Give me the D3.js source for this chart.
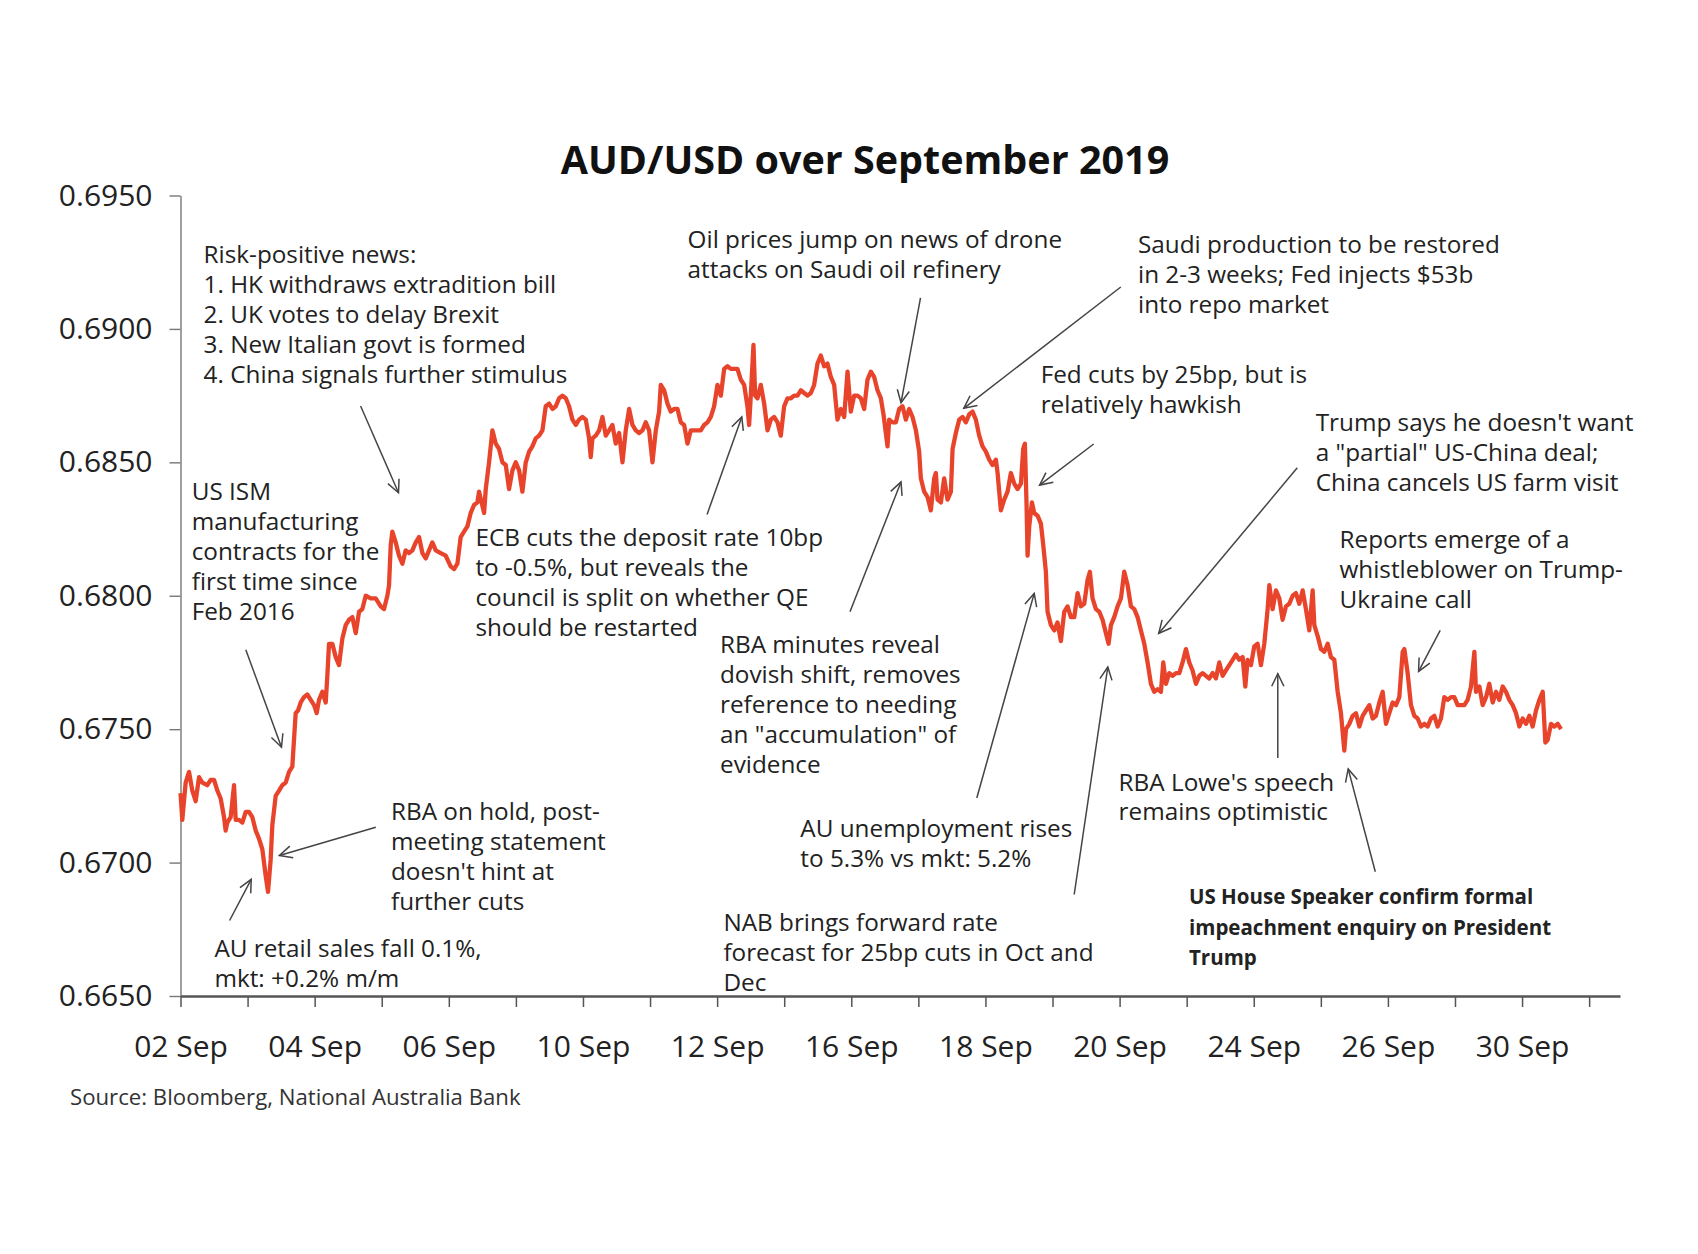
<!DOCTYPE html>
<html><head><meta charset="utf-8">
<script src="https://cdn.jsdelivr.net/npm/d3@7"></script>
<style>
body{margin:0;background:#fff;}
svg{display:block;}
text{font-family:"Open Sans","Noto Sans",sans-serif;fill:#222;}
</style>
</head><body>
<svg id="chart" width="1698" height="1254"></svg>
<script>
// ---------------- DATA ----------------
const chartTitle = "AUD/USD over September 2019";
const sourceNote = "Source: Bloomberg, National Australia Bank";
const tradingDays = ["02 Sep","03 Sep","04 Sep","05 Sep","06 Sep","09 Sep","10 Sep","11 Sep","12 Sep","13 Sep",
  "16 Sep","17 Sep","18 Sep","19 Sep","20 Sep","23 Sep","24 Sep","25 Sep","26 Sep","27 Sep","30 Sep","01 Oct"];
const yTicks = [0.6650,0.6700,0.6750,0.6800,0.6850,0.6900,0.6950];
// [trading-day position, AUD/USD]
const audusd = [
[0.00,0.6726],[0.027,0.6716],[0.077,0.6730],[0.127,0.6734],[0.176,0.6727],[0.226,0.6723],[0.276,0.6732],[0.326,0.6730],[0.40,0.6729],[0.45,0.6731],[0.50,0.6731],[0.549,0.6727],[0.599,0.6724],[0.649,0.6717],[0.673,0.6712],[0.698,0.6715],[0.748,0.6717],[0.798,0.6729],[0.823,0.6716],[0.872,0.6716],[0.922,0.6715],[0.972,0.6719],[1.021,0.6719],[1.071,0.6717],[1.121,0.6712],[1.17,0.6709],[1.22,0.6705],[1.27,0.6695],[1.305,0.6689],[1.344,0.6701],[1.369,0.6714],[1.419,0.6725],[1.469,0.6727],[1.518,0.6729],[1.568,0.6730],[1.618,0.6734],[1.667,0.6736],[1.692,0.6746],[1.717,0.6756],[1.752,0.6757],[1.792,0.6760],[1.841,0.6762],[1.891,0.6763],[1.941,0.6761],[1.991,0.6759],[2.03,0.6756],[2.065,0.6761],[2.115,0.6764],[2.165,0.6760],[2.189,0.6770],[2.214,0.6782],[2.264,0.6782],[2.314,0.6777],[2.363,0.6774],[2.413,0.6784],[2.463,0.6789],[2.512,0.6791],[2.562,0.6792],[2.612,0.6786],[2.662,0.6794],[2.711,0.6795],[2.761,0.6800],[2.836,0.6799],[2.91,0.6799],[2.985,0.6796],[3.034,0.6795],[3.084,0.6800],[3.109,0.6804],[3.134,0.6819],[3.158,0.6824],[3.208,0.6820],[3.258,0.6815],[3.308,0.6812],[3.357,0.6817],[3.407,0.6816],[3.457,0.6817],[3.507,0.6820],[3.556,0.6822],[3.606,0.6816],[3.656,0.6814],[3.705,0.6817],[3.755,0.6820],[3.805,0.6817],[3.879,0.6816],[3.954,0.6815],[4.028,0.6811],[4.078,0.6810],[4.128,0.6812],[4.177,0.6822],[4.227,0.6824],[4.277,0.6826],[4.326,0.6831],[4.376,0.6834],[4.426,0.6835],
[4.451,0.6839],[4.526,0.6831],[4.551,0.6840],[4.60,0.6850],[4.65,0.6862],[4.70,0.6857],[4.749,0.6855],[4.799,0.6850],[4.849,0.6849],[4.898,0.6840],[4.948,0.6847],[4.998,0.6850],[5.048,0.6847],[5.097,0.6839],[5.147,0.6850],[5.197,0.6854],[5.246,0.6856],[5.296,0.6859],[5.346,0.6860],[5.396,0.6862],[5.445,0.6871],[5.495,0.6872],[5.545,0.6870],[5.594,0.6871],[5.644,0.6874],[5.694,0.6875],[5.744,0.6874],[5.793,0.6871],[5.843,0.6866],[5.893,0.6864],[5.942,0.6866],[5.992,0.6867],[6.042,0.6866],[6.091,0.6859],[6.116,0.6852],[6.141,0.6859],[6.191,0.6860],[6.241,0.6862],[6.29,0.6867],[6.34,0.6860],[6.39,0.6862],[6.439,0.6864],[6.489,0.6857],[6.539,0.6861],[6.589,0.6850],[6.638,0.6862],[6.688,0.6870],[6.738,0.6864],[6.787,0.6862],[6.837,0.6861],[6.887,0.6862],[6.936,0.6865],[6.986,0.6862],[7.036,0.6850],[7.086,0.6862],[7.135,0.6869],[7.16,0.6879],[7.21,0.6877],[7.26,0.6872],[7.309,0.6869],[7.359,0.6870],[7.409,0.6870],[7.458,0.6865],[7.508,0.6864],[7.558,0.6857],[7.608,0.6862],[7.657,0.6862],[7.707,0.6862],[7.757,0.6862],[7.806,0.6864],[7.856,0.6865],[7.906,0.6867],[7.955,0.6871],[8.005,0.6879],[8.055,0.6875],[8.105,0.6885],[8.154,0.6886],[8.204,0.6885],[8.254,0.6885],[8.303,0.6885],[8.353,0.6881],[8.403,0.6879],[8.452,0.6871],[8.477,0.6864],[8.502,0.6875],[8.527,0.6887],[8.542,0.6894],[8.567,0.6875],[8.602,0.6874],[8.651,0.6879],[8.701,0.6872],[8.751,0.6862],[8.80,0.6866],[8.85,0.6867],[8.90,0.6865],[8.949,0.6860],[8.999,0.6871],[9.049,0.6874],[9.099,0.6874],[9.148,0.6875],[9.198,0.6875],[9.248,0.6877],[9.297,0.6876],[9.347,0.6875],[9.397,0.6876],[9.446,0.6879],[9.496,0.6887],[9.546,0.6890],[9.596,0.6886],[9.645,0.6887],[9.695,0.6882],[9.745,0.6879],[9.794,0.6866],[9.844,0.6870],[9.894,0.6867],[9.944,0.6884],[9.993,0.6869],[10.043,0.6875],[10.093,0.6875],[10.142,0.6874],[10.192,0.6870],[10.242,0.6881],[10.292,0.6884],[10.341,0.6882],[10.391,0.6877],
[10.441,0.6874],[10.48,0.6868],[10.515,0.6861],[10.54,0.6856],[10.565,0.6866],[10.615,0.6865],[10.665,0.6865],[10.714,0.6870],[10.764,0.6871],[10.814,0.6866],[10.863,0.6870],[10.913,0.6867],[10.963,0.6862],[11.012,0.6854],[11.037,0.6844],[11.087,0.6839],[11.137,0.6837],[11.186,0.6832],[11.236,0.6844],[11.261,0.6846],[11.286,0.6836],[11.336,0.6835],[11.385,0.6844],[11.435,0.6836],[11.485,0.6839],[11.51,0.6855],[11.559,0.6861],[11.609,0.6866],[11.659,0.6867],[11.708,0.6865],[11.758,0.6868],[11.808,0.6869],[11.857,0.6866],[11.907,0.6860],[11.957,0.6856],[12.007,0.6854],[12.056,0.6851],[12.106,0.6849],[12.156,0.6851],[12.181,0.6846],[12.23,0.6832],[12.28,0.6836],[12.33,0.6839],[12.379,0.6846],[12.429,0.6842],[12.479,0.6840],[12.529,0.6842],[12.563,0.6855],[12.588,0.6857],[12.613,0.6834],[12.628,0.6815],[12.653,0.6826],[12.693,0.6835],[12.727,0.6831],[12.777,0.6830],[12.827,0.6827],[12.862,0.6819],[12.901,0.6809],[12.926,0.6794],[12.976,0.6789],[13.026,0.6787],[13.075,0.6790],[13.125,0.6783],[13.175,0.6794],[13.224,0.6796],[13.274,0.6792],[13.324,0.6792],[13.374,0.6801],[13.423,0.6796],[13.473,0.6797],[13.523,0.6806],[13.557,0.6809],[13.597,0.6799],[13.647,0.6795],[13.697,0.6794],[13.746,0.6791],[13.796,0.6786],[13.836,0.6782],[13.871,0.6789],[13.92,0.6792],[13.97,0.6796],[14.02,0.6799],[14.069,0.6809],[14.119,0.6804],[14.169,0.6796],[14.219,0.6795],[14.268,0.6792],[14.318,0.6787],[14.368,0.6782],[14.417,0.6775],[14.467,0.6767],[14.517,0.6764],[14.567,0.6765],[14.616,0.6764],[14.651,0.6775],[14.691,0.6767],[14.74,0.6771],[14.79,0.6770],[14.84,0.6771],[14.89,0.6771],[14.939,0.6775],[14.989,0.6780],[15.039,0.6775],[15.088,0.6772],[15.138,0.6767],[15.188,0.6770],[15.238,0.6771],[15.287,0.6770],[15.337,0.6769],[15.387,0.6771],[15.436,0.6769],[15.486,0.6775],
[15.536,0.6770],[15.585,0.6772],[15.635,0.6774],[15.685,0.6776],[15.735,0.6778],[15.784,0.6776],[15.834,0.6777],[15.874,0.6766],[15.908,0.6776],[15.958,0.6774],[16.008,0.6781],[16.058,0.6782],[16.107,0.6774],[16.157,0.6782],[16.207,0.6795],[16.232,0.6804],[16.281,0.6795],[16.331,0.6802],[16.381,0.6799],[16.43,0.6791],[16.48,0.6796],[16.53,0.6797],[16.58,0.6800],[16.629,0.6801],[16.679,0.6797],[16.729,0.6802],[16.778,0.6795],[16.828,0.6787],[16.878,0.6802],[16.903,0.6789],[16.952,0.6785],[17.002,0.6780],[17.052,0.6779],[17.102,0.6782],[17.151,0.6777],[17.201,0.6776],[17.251,0.6764],[17.30,0.6756],[17.325,0.6749],[17.35,0.6742],[17.375,0.6750],[17.425,0.6752],[17.474,0.6755],[17.524,0.6756],[17.574,0.6751],[17.623,0.6755],[17.673,0.6757],[17.723,0.6759],[17.773,0.6754],[17.822,0.6755],[17.872,0.6760],[17.922,0.6764],[17.971,0.6752],[18.021,0.6756],[18.071,0.6760],[18.12,0.6759],[18.17,0.6762],[18.22,0.6779],[18.245,0.6780],[18.294,0.6771],[18.344,0.6759],[18.394,0.6755],[18.444,0.6754],[18.493,0.6751],[18.543,0.6752],[18.593,0.6751],[18.642,0.6754],[18.692,0.6755],[18.742,0.6751],[18.791,0.6754],[18.841,0.6762],[18.891,0.6761],[18.941,0.6762],[18.99,0.6762],[19.04,0.6759],[19.09,0.6759],[19.139,0.6759],[19.189,0.6761],[19.239,0.6766],[19.289,0.6779],[19.313,0.6764],[19.363,0.6766],[19.413,0.6759],[19.463,0.6762],[19.512,0.6767],[19.562,0.6760],[19.612,0.6764],[19.661,0.6761],[19.711,0.6766],[19.761,0.6764],[19.81,0.6761],[19.86,0.6759],[19.91,0.6756],[19.96,0.6751],[20.009,0.6754],[20.059,0.6752],[20.109,0.6755],[20.158,0.6751],[20.208,0.6757],[20.258,0.6761],[20.308,0.6764],[20.347,0.6745],[20.382,0.6746],[20.432,0.6752],[20.481,0.6751],[20.531,0.6752],[20.581,0.6750]
];
const noteTexts = [
  ["Risk-positive news:","1. HK withdraws extradition bill","2. UK votes to delay Brexit","3. New Italian govt is formed","4. China signals further stimulus"],
  ["US ISM","manufacturing","contracts for the","first time since","Feb 2016"],
  ["ECB cuts the deposit rate 10bp","to -0.5%, but reveals the","council is split on whether QE","should be restarted"],
  ["Oil prices jump on news of drone","attacks on Saudi oil refinery"],
  ["Saudi production to be restored","in 2-3 weeks; Fed injects $53b","into repo market"],
  ["Fed cuts by 25bp, but is","relatively hawkish"],
  ["Trump says he doesn't want","a \"partial\" US-China deal;","China cancels US farm visit"],
  ["Reports emerge of a","whistleblower on Trump-","Ukraine call"],
  ["RBA minutes reveal","dovish shift, removes","reference to needing","an \"accumulation\" of","evidence"],
  ["RBA on hold, post-","meeting statement","doesn't hint at","further cuts"],
  ["AU retail sales fall 0.1%,","mkt: +0.2% m/m"],
  ["AU unemployment rises","to 5.3% vs mkt: 5.2%"],
  ["NAB brings forward rate","forecast for 25bp cuts in Oct and","Dec"],
  ["RBA Lowe's speech","remains optimistic"],
  ["US House Speaker confirm formal","impeachment enquiry on President","Trump"]
];

// ---------------- LAYOUT ----------------
const notePos = [
  [203.6,263],[191.7,500],[475.4,546],[687.6,248],[1138,253.4],[1040.7,383.3],[1315.7,431],[1339.5,548],
  [720,653],[391,820],[214.4,957.3],[800.3,837],[723.4,931.3],[1118.6,790.5],[1189,904.2]
];
const arrows = [
  [360.6,406,398.5,492.7],[245.8,649.7,281.5,747.2],[707.1,514.4,741.8,416.9],[920.5,297.8,901,402.8],
  [1120.8,287,963.8,408.3],[1093.7,444,1039.6,485.1],[1297.3,467.8,1158.7,633.5],[1440.2,630.3,1418.6,671.4],
  [850,611.8,901,481.9],[375.8,827.3,279.4,855.5],[229.6,920.5,251.2,879.3],[976.8,798,1034.2,593.4],
  [1074.2,894.5,1107.8,667],[1277.8,758,1277.8,673.6],[1375.3,871.7,1348.2,768.9]
];

const svg = d3.select("#chart");
const x = d3.scaleLinear().domain([0, 21.46]).range([180.5, 1620]);
const y = d3.scaleLinear().domain([0.6650, 0.6950]).range([996, 195.5]);

// title
svg.append("text").attr("x", 865).attr("y", 174).attr("text-anchor","middle")
  .style("font-size","39.5px").style("font-weight","bold").style("fill","#111").text(chartTitle);

// y axis
const yAxis = svg.append("g").attr("transform",`translate(${x(0)},0)`)
  .call(d3.axisLeft(y).tickValues(yTicks).tickFormat(d3.format(".4f")).tickSize(11).tickSizeOuter(0).tickPadding(17));
yAxis.select(".domain").attr("stroke","#888").attr("stroke-width",1.6);
yAxis.selectAll(".tick line").attr("stroke","#777").attr("stroke-width",1.4);
yAxis.selectAll(".tick text").style("font-size","30px").style("font-family","'Open Sans'").attr("fill","#222");

// x axis
const xAxis = svg.append("g").attr("transform",`translate(0,${y(0.6650)})`)
  .call(d3.axisBottom(x).tickValues(d3.range(tradingDays.length))
    .tickFormat((d,i)=> (i%2===0 && i<=20) ? tradingDays[i] : "")
    .tickSize(11).tickSizeOuter(0).tickPadding(29));
xAxis.select(".domain").attr("stroke","#555").attr("stroke-width",2.6);
xAxis.selectAll(".tick line").attr("stroke","#555").attr("stroke-width",1.5);
xAxis.selectAll(".tick text").style("font-size","30px").style("font-family","'Open Sans'").attr("fill","#222");

// line
const line = d3.line().x(d=>x(d[0])).y(d=>y(d[1]));
svg.append("path").datum(audusd).attr("d",line).attr("fill","none")
  .attr("stroke","#E8442B").attr("stroke-width",4.3).attr("stroke-linejoin","round");

// arrows
const ag = svg.append("g").attr("stroke","#444").attr("stroke-width",1.5).attr("fill","none");
arrows.forEach(([x1,y1,x2,y2])=>{
  ag.append("line").attr("x1",x1).attr("y1",y1).attr("x2",x2).attr("y2",y2);
  const a = Math.atan2(y2-y1,x2-x1), L=14, w=0.45;
  const p1=[x2-L*Math.cos(a-w), y2-L*Math.sin(a-w)], p2=[x2-L*Math.cos(a+w), y2-L*Math.sin(a+w)];
  ag.append("path").attr("d",`M${p1[0]},${p1[1]}L${x2},${y2}L${p2[0]},${p2[1]}`);
});

// notes
noteTexts.forEach((lines,i)=>{
  const [nx,ny]=notePos[i];
  const bold = i===14;
  const t = svg.append("text").attr("x",nx).attr("y",ny)
    .style("font-size", bold? "20.5px":"24.3px").style("font-weight", bold?"bold":"normal")
    .style("fill","#222");
  lines.forEach((s,j)=>t.append("tspan").attr("x",nx).attr("y",ny + j*(bold?30.3:29.9)).text(s));
});

// source
svg.append("text").attr("x",70).attr("y",1105).style("font-size","22.2px").style("fill","#333").text(sourceNote);
</script>
</body></html>
